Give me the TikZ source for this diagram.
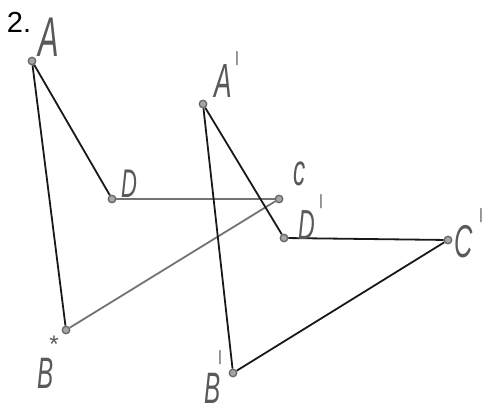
\documentclass[tikz,border=0pt]{standalone}
\usepackage{fontspec}
\setmainfont{Liberation Sans}
\newcommand\hwl[2]{{\fontsize{#1}{#1}\selectfont\itshape\scalebox{0.55}[1]{#2}}}
\begin{document}
\begin{tikzpicture}[x=1pt,y=-1pt,
  pt/.style={circle,draw=black!60,fill=black!35,line width=1.3pt,inner sep=0pt,minimum size=7.5pt},
  blk/.style={draw=black!90,line width=1.8pt},
  gry/.style={draw=black!55,line width=1.8pt},
  lbl/.style={text=black!65,inner sep=0pt},
  prm/.style={text=black!65,font=\fontsize{15}{15}\selectfont,inner sep=0pt}]
\useasboundingbox[fill=white] (0,0) rectangle (486,411);
\node[font=\fontsize{29}{29}\selectfont,inner sep=0pt] (num) at (19,22) {2.};
% first figure
\node[pt] (A) at (32,61) {};
\node[pt] (D) at (112,199) {};
\node[pt] (C) at (279,199) {};
\node[pt] (Bs) at (66,330) {};
% second figure
\node[pt] (Ap) at (203,104) {};
\node[pt] (Dp) at (284,238) {};
\node[pt] (Cp) at (448,240) {};
\node[pt] (Bp) at (233,373) {};
% edges
\draw[blk] (A) -- (D);
\draw[blk] (A) -- (Bs);
\draw[gry] (D) -- (C);
\draw[gry] (Bs) -- (C);
\draw[blk] (Ap) -- (Dp);
\draw[blk] (Ap) -- (Bp);
\draw[blk] (Dp) -- (Cp);
\draw[blk] (Cp) -- (Bp);
% labels
\node[lbl] (lA) at (49,37) {\hwl{56}{A}};
\node[lbl] (lD) at (129,184) {\hwl{40}{D}};
\node[lbl] (lC) at (300,174) {\hwl{44}{c}};
\node[lbl] (lBs) at (46,373) {\hwl{44}{B}};
\node[prm,font=\fontsize{24}{24}\selectfont] (sBs) at (54,344) {*};
\node[lbl] (lAp) at (223,81) {\hwl{48}{A}};
\node[prm] (pAp) at (237,59) {|};
\node[lbl] (lDp) at (307,225) {\hwl{42}{D}};
\node[prm] (pDp) at (321,202) {|};
\node[lbl] (lCp) at (464,242) {\hwl{46}{C}};
\node[prm] (pCp) at (481,216) {|};
\node[lbl] (lBp) at (213,388) {\hwl{44}{B}};
\node[prm] (pBp) at (220,358) {|};
\end{tikzpicture}
\end{document}
